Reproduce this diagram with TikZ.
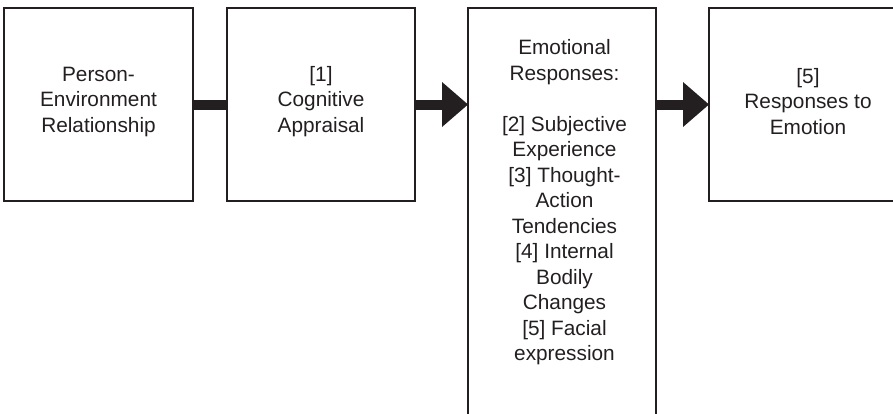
\documentclass[tikz,border=0pt]{standalone}
\usepackage{fontspec}
\setmainfont{Liberation Sans}
\usetikzlibrary{arrows.meta}
\definecolor{ink}{HTML}{231F20}
\tikzset{
  box/.style={draw=ink, line width=2pt, minimum width=#1, inner sep=0pt, outer sep=0pt},
  lbl/.style={align=center, text=ink, font=\fontsize{20.8pt}{25.5pt}\selectfont, inner sep=0pt},
  bar/.style={draw=ink, line width=10pt},
  fatarrow/.style={draw=ink, line width=10pt, -{Triangle[length=26pt,width=45pt,line width=0pt]}},
}
\begin{document}
\begin{tikzpicture}[x=1pt,y=-1pt]
\useasboundingbox (0,0) rectangle (893,413);
\clip (0,0) rectangle (893,413);
% boxes
\node[box=189pt, minimum height=193pt] (b1) at (98.5,104.5) {};
\node[box=188pt, minimum height=193pt] (b2) at (321,104.5) {};
\node[box=188pt, minimum height=440pt] (b3) at (562,228) {};
\node[box=200pt, minimum height=193pt] (b4) at (809,104.5) {};
% labels
\node[lbl] (t1) at (98.5,101.5) {Person-\\Environment\\Relationship};
\node[lbl] (t2) at (321,101.5) {{[1]}\\Cognitive\\Appraisal};
\node[lbl] (t3) at (564.5,202.5) {Emotional\\Responses:\\[25.5pt]{[2]} Subjective\\Experience\\{[3]} Thought-\\Action\\Tendencies\\{[4]} Internal\\Bodily\\Changes\\{[5]} Facial\\expression};
\node[lbl] (t4) at (808,101.5) {{[5]}\\Responses to\\Emotion};
% connectors
\draw[bar] (b1.east) -- (b2.west);
\draw[fatarrow] (b2.east) -- (b3.west |- b2.east);
\draw[fatarrow] (b3.east |- b2.east) -- (b4.west);
\end{tikzpicture}
\end{document}
